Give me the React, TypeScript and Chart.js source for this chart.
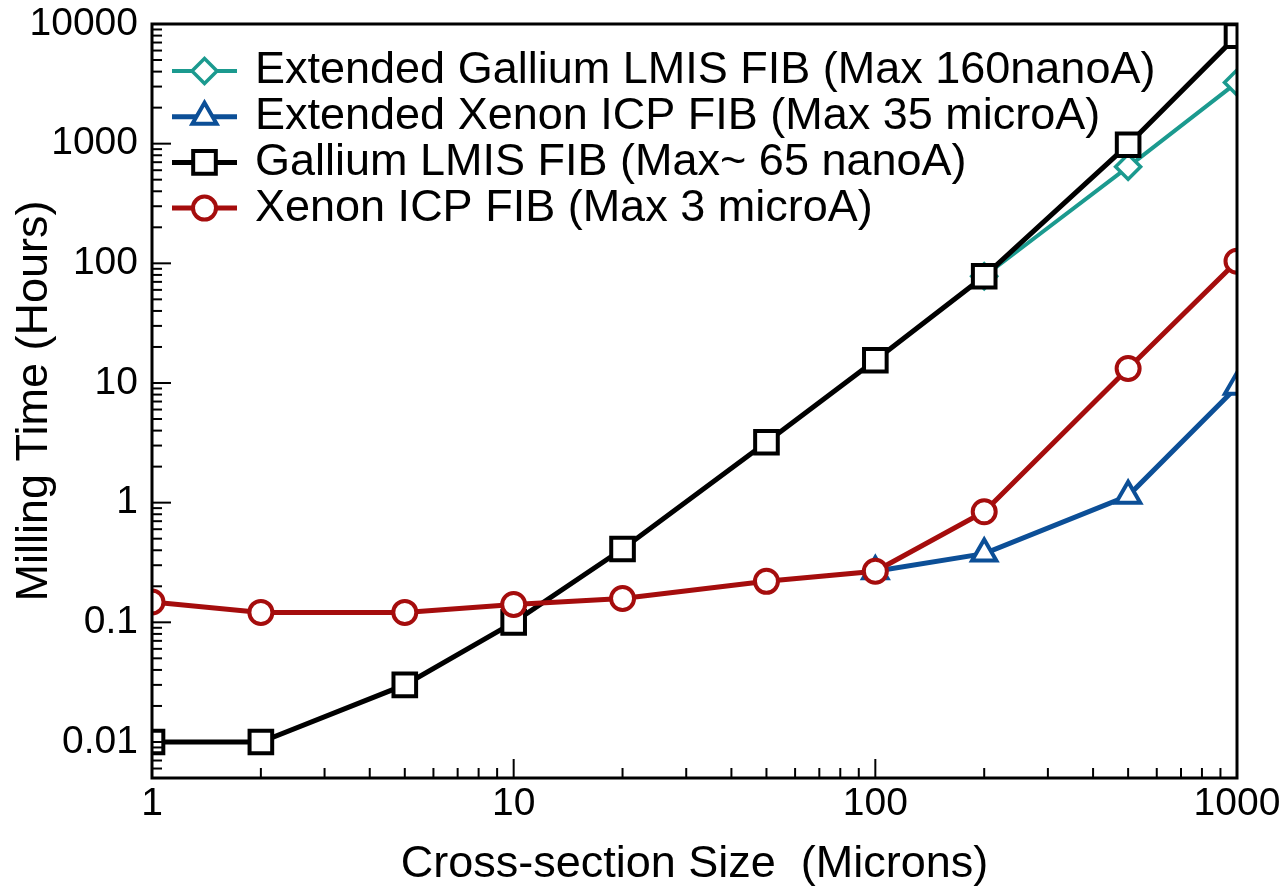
import React, { useEffect, useRef } from 'react';
import { Chart, registerables } from 'chart.js';
import { drawPoint } from 'chart.js/helpers';

Chart.register(...registerables);

// ---- data ----
const sizes = [1, 2, 5, 10, 20, 50, 100, 200, 500, 1000];
const galliumLmis = [0.01, 0.01, 0.03, 0.1, 0.41, 3.2, 15.5, 78, 980, 8000];
const xenonIcp = [0.148, 0.121, 0.121, 0.141, 0.158, 0.22, 0.267, 0.84, 13.2, 104];
const extXenonSizes = [100, 200, 500, 1000];
const extXenon = [0.267, 0.375, 1.14, 9.3];
const extGalliumSizes = [200, 500, 1000];
const extGallium = [78, 640, 3250];
const xTickValues = [1, 10, 100, 1000];
const yTickValues = [0.01, 0.1, 1, 10, 100, 1000, 10000];

const labels = [
  'Extended Gallium LMIS FIB (Max 160nanoA)',
  'Extended Xenon ICP FIB (Max 35 microA)',
  'Gallium LMIS FIB (Max~ 65 nanoA)',
  'Xenon ICP FIB (Max 3 microA)',
];

const FONT = '"Liberation Sans", Arial, Helvetica, sans-serif';

const toPoints = (xs: number[], ys: number[]) => xs.map((x, i) => ({ x, y: ys[i] }));

const framePlugin = {
  id: 'frameTicks',
  afterDatasetsDraw(chart: any) {
    const { ctx, chartArea: a, scales } = chart;
    ctx.save();
    ctx.strokeStyle = '#000';
    ctx.lineWidth = 2;
    const drawLogTicks = (scale: any, horizontal: boolean) => {
      const lo = Math.floor(Math.log10(scale.min));
      const hi = Math.ceil(Math.log10(scale.max));
      for (let e = lo; e <= hi; e++) {
        for (let m = 1; m <= 9; m++) {
          const v = m * Math.pow(10, e);
          if (v < scale.min * 0.999 || v > scale.max * 1.001) continue;
          const len = m === 1 ? 19 : 10;
          const p = scale.getPixelForValue(v);
          ctx.beginPath();
          if (horizontal) {
            ctx.moveTo(p, a.bottom);
            ctx.lineTo(p, a.bottom - len);
          } else {
            ctx.moveTo(a.left, p);
            ctx.lineTo(a.left + len, p);
          }
          ctx.stroke();
        }
      }
    };
    drawLogTicks(scales.x, true);
    drawLogTicks(scales.y, false);
    ctx.lineWidth = 3;
    ctx.strokeRect(a.left, a.top, a.right - a.left, a.bottom - a.top);
    ctx.restore();
  },
};

const legendPlugin = {
  id: 'insideLegend',
  afterDraw(chart: any) {
    const { ctx, chartArea: a } = chart;
    ctx.save();
    const order = [0, 1, 2, 3];
    order.forEach((di, row) => {
      const ds = chart.data.datasets[di];
      const y = a.top + 47 + row * 45.7;
      const x0 = a.left + 20;
      const x1 = a.left + 85;
      const cx = (x0 + x1) / 2;
      ctx.strokeStyle = ds.borderColor;
      ctx.lineWidth = ds.borderWidth;
      ctx.beginPath();
      ctx.moveTo(x0, y);
      ctx.lineTo(x1, y);
      ctx.stroke();
      ctx.fillStyle = '#fff';
      ctx.strokeStyle = ds.pointBorderColor;
      ctx.lineWidth = ds.pointBorderWidth;
      drawPoint(ctx, { pointStyle: ds.pointStyle, rotation: 0, radius: ds.pointRadius, borderWidth: ds.pointBorderWidth }, cx, y);
      ctx.fillStyle = '#000';
      ctx.font = `45px ${FONT}`;
      ctx.textAlign = 'left';
      ctx.textBaseline = 'middle';
      ctx.fillText(ds.label, a.left + 103, y);
    });
    ctx.restore();
  },
};

export default function App() {
  const ref = useRef<HTMLCanvasElement>(null);
  useEffect(() => {
    if (!ref.current) return;
    const chart = new Chart(ref.current, {
      type: 'line',
      data: {
        datasets: [
          {
            label: labels[0],
            data: toPoints(extGalliumSizes, extGallium),
            borderColor: '#1b9a8f',
            borderWidth: 4,
            pointStyle: 'rectRot',
            pointRadius: 12.5,
            pointBorderWidth: 3.5,
            pointBorderColor: '#1b9a8f',
            pointBackgroundColor: '#fff',
            order: 3,
            clip: 0,
          },
          {
            label: labels[1],
            data: toPoints(extXenonSizes, extXenon),
            borderColor: '#0c4f97',
            borderWidth: 5,
            pointStyle: 'triangle',
            pointRadius: 14,
            pointBorderWidth: 4,
            pointBorderColor: '#0c4f97',
            pointBackgroundColor: '#fff',
            order: 2,
            clip: 0,
          },
          {
            label: labels[2],
            data: toPoints(sizes, galliumLmis),
            borderColor: '#000000',
            borderWidth: 5,
            pointStyle: 'rect',
            pointRadius: 16,
            pointBorderWidth: 4,
            pointBorderColor: '#000000',
            pointBackgroundColor: '#fff',
            order: 1,
            clip: 0,
          },
          {
            label: labels[3],
            data: toPoints(sizes, xenonIcp),
            borderColor: '#a50d0d',
            borderWidth: 5,
            pointStyle: 'circle',
            pointRadius: 11.5,
            pointBorderWidth: 4,
            pointBorderColor: '#a50d0d',
            pointBackgroundColor: '#fff',
            order: 0,
            clip: 0,
          },
        ],
      },
      options: {
        animation: false,
        responsive: false,
        devicePixelRatio: 1,
        layout: { padding: { top: 24, right: 46, left: 0, bottom: 0 } },
        plugins: { legend: { display: false }, tooltip: { enabled: false } },
        scales: {
          x: {
            type: 'logarithmic',
            min: 1,
            max: 1000,
            afterBuildTicks: (s: any) => {
              s.ticks = xTickValues.map((v) => ({ value: v }));
            },
            afterFit: (s: any) => {
              s.height = 115;
              s.paddingLeft = 0;
              s.paddingRight = 0;
            },
            grid: { display: false, drawTicks: false },
            border: { display: false },
            ticks: {
              autoSkip: false,
              maxRotation: 0,
              padding: 3,
              color: '#000',
              font: { family: FONT, size: 39 },
              callback: (v: any) => String(v),
            },
            title: {
              display: true,
              text: 'Cross-section Size  (Microns)',
              color: '#000',
              font: { family: FONT, size: 45 },
              padding: { top: 0, bottom: 1 },
            },
          },
          y: {
            type: 'logarithmic',
            min: 0.005,
            max: 10000,
            afterBuildTicks: (s: any) => {
              s.ticks = yTickValues.map((v) => ({ value: v }));
            },
            afterFit: (s: any) => {
              s.width = 152;
              s.paddingTop = 0;
              s.paddingBottom = 0;
            },
            grid: { display: false, drawTicks: false },
            border: { display: false },
            ticks: {
              autoSkip: false,
              padding: 14,
              color: '#000',
              font: { family: FONT, size: 39 },
              callback: (v: any) => String(v),
            },
            title: {
              display: true,
              text: 'Milling Time (Hours)',
              color: '#000',
              font: { family: FONT, size: 45 },
              padding: { top: 8, bottom: 0 },
            },
          },
        },
      },
      plugins: [framePlugin, legendPlugin],
    } as any);
    return () => chart.destroy();
  }, []);
  return (
    <div style={{ position: 'fixed', left: 0, top: 0, width: 1283, height: 893, background: '#fff' }}>
      <canvas ref={ref} width={1283} height={893} style={{ display: 'block', width: 1283, height: 893 }} />
    </div>
  );
}
